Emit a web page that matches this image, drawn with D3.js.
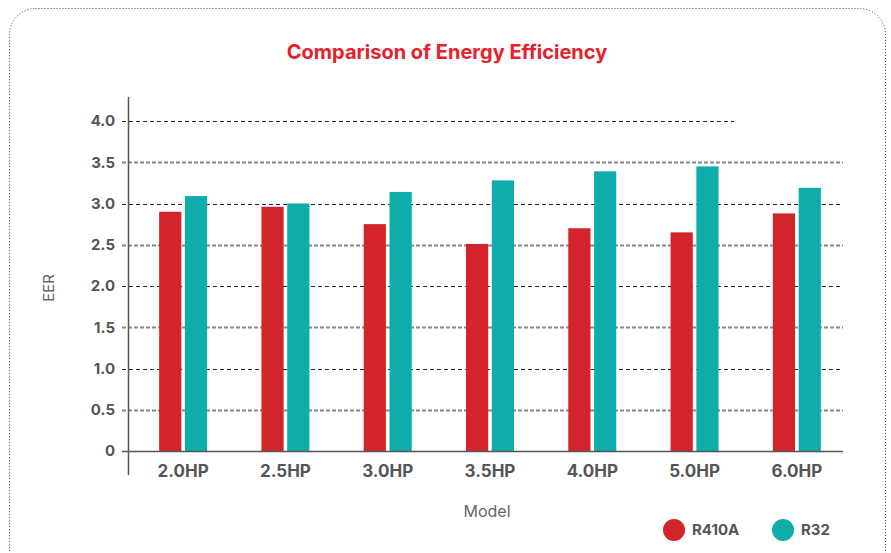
<!DOCTYPE html>
<html>
<head>
<meta charset="utf-8">
<script src="https://cdn.jsdelivr.net/npm/d3@7"></script>
<style>
	body { margin: 0; background: #fff; }
	svg { display: block; font-family: Inter, "Noto Sans", sans-serif; }
</style>
</head>
<body>
<div class="chart"></div>
<script>
const models = ["2.0HP", "2.5HP", "3.0HP", "3.5HP", "4.0HP", "5.0HP", "6.0HP"];
const r410a = [2.9, 2.96, 2.75, 2.51, 2.7, 2.65, 2.88];
const r32 = [3.09, 3.0, 3.14, 3.28, 3.39, 3.45, 3.19];
const seriesNames = ["R410A", "R32"];
const yTicks = [0, 0.5, 1, 1.5, 2, 2.5, 3, 3.5, 4];

const colors = { R410A: "#d3232b", R32: "#0fada9" };

const draw = () => {
	const width = 891, height = 553;

	const svg = d3.select(".chart")
		.append("svg")
		.attr("width", width)
		.attr("height", height);

	// dotted frame
	svg.append("rect")
		.attr("x", 9.5).attr("y", 8.5)
		.attr("width", 876).attr("height", 570)
		.attr("rx", 26)
		.attr("fill", "none")
		.attr("stroke", "#444")
		.attr("stroke-width", 1)
		.attr("stroke-dasharray", "1,2");

	const x = d3.scaleBand()
		.domain(models)
		.range([132, 848]);

	const y = d3.scaleLinear()
		.domain([0, 4])
		.range([451, 121]);

	const sub = d3.scaleBand()
		.domain(seriesNames)
		.range([-24, 24])
		.paddingInner(0.14);

	// grid lines
	svg.append("g")
		.selectAll("line")
		.data(yTicks.filter((d) => d > 0))
		.join("line")
		.attr("x1", 122)
		.attr("x2", (d) => (d === 4 ? 734 : 843))
		.attr("y1", (d) => Math.round(y(d)) + 0.5)
		.attr("y2", (d) => Math.round(y(d)) + 0.5)
		.attr("stroke", (d) => (d % 1 === 0 ? "#222" : "#888"))
		.attr("stroke-width", (d) => (d % 1 === 0 ? 1 : 2))
		.attr("stroke-dasharray", (d) => (d % 1 === 0 ? "4,3" : "4,2"));

	// bars
	const groups = svg.append("g")
		.selectAll("g")
		.data(models)
		.join("g")
		.attr("transform", (d) => "translate(" + (x(d) + x.bandwidth() / 2) + ",0)");

	groups.selectAll("rect")
		.data((d, i) => [
			{ key: "R410A", value: r410a[i] },
			{ key: "R32", value: r32[i] }
		])
		.join("rect")
		.attr("x", (d) => sub(d.key))
		.attr("width", sub.bandwidth())
		.attr("y", (d) => y(d.value))
		.attr("height", (d) => y(0) - y(d.value))
		.attr("fill", (d) => colors[d.key]);

	// axes lines
	svg.append("line")
		.attr("x1", 122).attr("x2", 843)
		.attr("y1", 451.5).attr("y2", 451.5)
		.attr("stroke", "#555").attr("stroke-width", 1.5);
	svg.append("line")
		.attr("x1", 128.5).attr("x2", 128.5)
		.attr("y1", 97).attr("y2", 475)
		.attr("stroke", "#555").attr("stroke-width", 1.5);

	// y tick labels
	svg.append("g")
		.selectAll("text")
		.data(yTicks)
		.join("text")
		.attr("x", 115)
		.attr("y", (d) => y(d))
		.attr("dy", "0.35em")
		.attr("text-anchor", "end")
		.attr("fill", "#555")
		.style("font-size", "15px")
		.style("font-weight", "700")
		.text((d) => (d === 0 ? "0" : d3.format(".1f")(d)));

	// x tick labels
	svg.append("g")
		.selectAll("text")
		.data(models)
		.join("text")
		.attr("x", (d) => x(d) + x.bandwidth() / 2)
		.attr("y", 477)
		.attr("text-anchor", "middle")
		.attr("fill", "#555")
		.style("font-size", "17px")
		.style("font-weight", "700")
		.text((d) => d);

	// title
	svg.append("text")
		.attr("x", 447)
		.attr("y", 59)
		.attr("text-anchor", "middle")
		.attr("fill", "#e8202a")
		.style("font-size", "20px")
		.style("font-weight", "700")
		.text("Comparison of Energy Efficiency");

	// axis titles
	svg.append("text")
		.attr("transform", "translate(54,288) rotate(-90)")
		.attr("text-anchor", "middle")
		.attr("fill", "#666")
		.style("font-size", "15px")
		.text("EER");

	svg.append("text")
		.attr("x", 487)
		.attr("y", 517)
		.attr("text-anchor", "middle")
		.attr("fill", "#666")
		.style("font-size", "16px")
		.text("Model");

	// legend
	const legend = svg.append("g")
		.selectAll("g")
		.data(seriesNames)
		.join("g")
		.attr("transform", (d, i) => "translate(" + (674 + i * 109) + ",530)");

	legend.append("circle")
		.attr("r", 11)
		.attr("fill", (d) => colors[d]);

	legend.append("text")
		.attr("x", 18)
		.attr("dy", "0.35em")
		.attr("fill", "#555")
		.style("font-size", "15px")
		.style("font-weight", "700")
		.text((d) => d);
};

draw();
</script>
</body>
</html>
